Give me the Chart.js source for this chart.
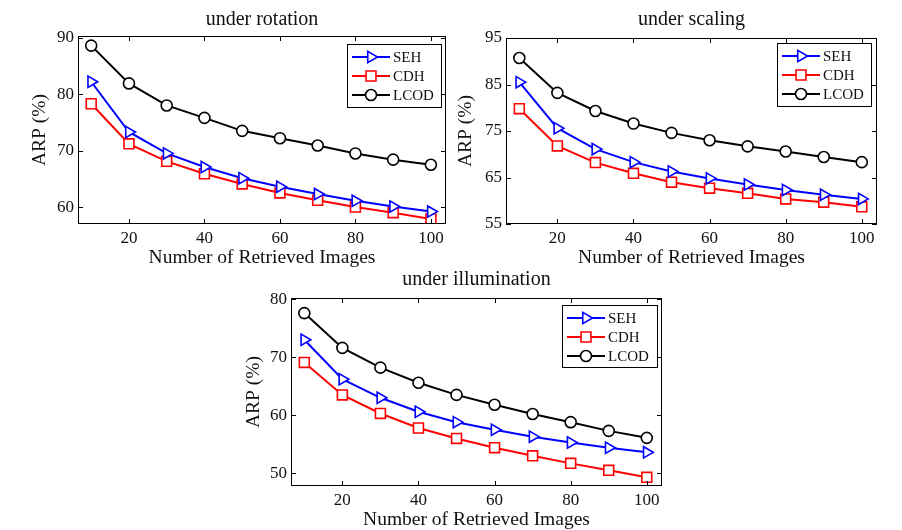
<!DOCTYPE html>
<html>
<head>
<meta charset="utf-8">
<script src="https://cdn.jsdelivr.net/npm/chart.js@4.4.0/dist/chart.umd.min.js"></script>
<style>
  body { margin: 0; background: #fff; }
  #wrap { position: relative; width: 902px; height: 530px; }
  canvas { position: absolute; left: 0; top: 0; }
</style>
</head>
<body>
<div id="wrap">
  <canvas id="rotChart" width="902" height="530"></canvas>
  <canvas id="scaChart" width="902" height="530"></canvas>
  <canvas id="illChart" width="902" height="530"></canvas>
</div>
<script>
// Number of retrieved images (x axis)
const retrieved = [10, 20, 30, 40, 50, 60, 70, 80, 90, 100];
const xTicks = [20, 40, 60, 80, 100];

// under rotation
const rotSEH  = [82.2, 73.3, 69.5, 67.1, 65.1, 63.6, 62.3, 61.1, 60.1, 59.2];
const rotCDH  = [78.3, 71.2, 68.1, 65.9, 64.1, 62.5, 61.2, 60.0, 59.0, 57.9];
const rotLCOD = [88.6, 81.9, 78.0, 75.8, 73.5, 72.2, 70.9, 69.5, 68.4, 67.5];
const rotTicks = [60, 70, 80, 90];

// under scaling
const scaSEH  = [85.5, 75.6, 71.1, 68.3, 66.3, 64.8, 63.5, 62.3, 61.3, 60.4];
const scaCDH  = [79.8, 71.8, 68.2, 65.9, 64.0, 62.7, 61.6, 60.4, 59.7, 58.7];
const scaLCOD = [90.7, 83.2, 79.3, 76.6, 74.6, 73.0, 71.7, 70.6, 69.4, 68.3];
const scaTicks = [55, 65, 75, 85, 95];

// under illumination
const illSEH  = [73.0, 66.2, 63.0, 60.6, 58.8, 57.5, 56.3, 55.3, 54.4, 53.6];
const illCDH  = [69.1, 63.5, 60.3, 57.8, 56.0, 54.4, 53.0, 51.7, 50.5, 49.3];
const illLCOD = [77.6, 71.6, 68.2, 65.6, 63.5, 61.8, 60.2, 58.8, 57.3, 56.1];
const illTicks = [50, 60, 70, 80];

const FONT = '"Liberation Serif", "Times New Roman", serif';
Chart.defaults.font.family = FONT;
Chart.defaults.color = '#111';

function series(label, values, color, style, radius, rotation) {
    return {
        label: label,
        data: retrieved.map((x, i) => ({ x: x, y: values[i] })),
        borderColor: color,
        backgroundColor: '#fff',
        borderWidth: 2,
        pointStyle: style,
        pointRadius: radius,
        pointHoverRadius: radius,
        pointRotation: rotation,
        pointBorderColor: color,
        pointBackgroundColor: '#fff',
        pointBorderWidth: 1.6,
        tension: 0
    };
}

// MATLAB style box, inward ticks, titles and legend
const matlabFrame = {
    id: 'matlabFrame',
    afterDraw(chart, args, opts) {
        const { ctx, chartArea: a, scales: { x, y } } = chart;
        ctx.save();
        ctx.strokeStyle = '#000';
        ctx.lineWidth = 1;
        ctx.strokeRect(a.left + 0.5, a.top + 0.5, a.width - 1, a.height - 1);

        const len = 5;
        ctx.beginPath();
        x.ticks.forEach(t => {
            const px = Math.round(x.getPixelForValue(t.value)) + 0.5;
            ctx.moveTo(px, a.bottom); ctx.lineTo(px, a.bottom - len);
            ctx.moveTo(px, a.top); ctx.lineTo(px, a.top + len);
        });
        y.ticks.forEach(t => {
            const py = Math.round(y.getPixelForValue(t.value)) + 0.5;
            ctx.moveTo(a.left, py); ctx.lineTo(a.left + len, py);
            ctx.moveTo(a.right, py); ctx.lineTo(a.right - len, py);
        });
        ctx.stroke();

        // titles
        ctx.fillStyle = '#111';
        ctx.textAlign = 'center';
        ctx.textBaseline = 'middle';
        const cx = (a.left + a.right) / 2;
        ctx.font = '20px ' + FONT;
        ctx.fillText(opts.title, cx, opts.titleY);
        ctx.font = '19.5px ' + FONT;
        ctx.fillText('Number of Retrieved Images', cx, opts.xTitleY);
        ctx.save();
        ctx.translate(opts.yTitleX, (a.top + a.bottom) / 2);
        ctx.rotate(-Math.PI / 2);
        ctx.fillText('ARP (%)', 0, 0);
        ctx.restore();

        // legend
        const lg = opts.legend;
        ctx.fillStyle = '#fff';
        ctx.fillRect(lg.x, lg.y, lg.w, lg.h);
        ctx.strokeStyle = '#000';
        ctx.lineWidth = 1;
        ctx.strokeRect(lg.x + 0.5, lg.y + 0.5, lg.w, lg.h);
        ctx.font = '15px ' + FONT;
        ctx.textAlign = 'left';
        chart.data.datasets.forEach((ds, i) => {
            const ry = lg.y + 13 + i * 19;
            ctx.strokeStyle = ds.borderColor;
            ctx.lineWidth = 2;
            ctx.beginPath();
            ctx.moveTo(lg.x + 5, ry);
            ctx.lineTo(lg.x + 43, ry);
            ctx.stroke();
            ctx.fillStyle = '#fff';
            ctx.lineWidth = ds.pointBorderWidth;
            Chart.helpers.drawPoint(ctx, {
                pointStyle: ds.pointStyle,
                radius: ds.pointRadius,
                rotation: ds.pointRotation,
                borderWidth: ds.pointBorderWidth
            }, lg.x + 24, ry);
            ctx.fillStyle = '#111';
            ctx.fillText(ds.label, lg.x + 46, ry + 1);
        });
        ctx.restore();
    }
};

function makeChart(id, cfg) {
    const box = cfg.box;
    new Chart(document.getElementById(id), {
        type: 'line',
        data: {
            datasets: [
                series('SEH', cfg.seh, '#0000ff', 'triangle', 6.5, 90),
                series('CDH', cfg.cdh, '#ff0000', 'rect', 7, 0),
                series('LCOD', cfg.lcod, '#000000', 'circle', 5.5, 0)
            ]
        },
        options: {
            responsive: false,
            animation: false,
            devicePixelRatio: 1,
            layout: {
                autoPadding: false,
                padding: {
                    left: box.left - 50,
                    top: box.top,
                    right: 902 - box.right,
                    bottom: 530 - box.bottom - 40
                }
            },
            plugins: {
                legend: { display: false },
                tooltip: { enabled: false },
                matlabFrame: {
                    title: cfg.title,
                    titleY: cfg.titleY,
                    xTitleY: cfg.xTitleY,
                    yTitleX: cfg.yTitleX,
                    legend: cfg.legend
                }
            },
            scales: {
                x: {
                    type: 'linear',
                    min: 6.5,
                    max: 104,
                    grid: { display: false, drawTicks: false },
                    border: { display: false },
                    ticks: { font: { size: 17 }, padding: 4, color: '#111', maxRotation: 0 },
                    afterBuildTicks: s => { s.ticks = xTicks.map(v => ({ value: v })); },
                    afterFit: s => { s.height = 40; s.paddingLeft = s.paddingRight = 0; }
                },
                y: {
                    type: 'linear',
                    min: cfg.yMin,
                    max: cfg.yMax,
                    grid: { display: false, drawTicks: false },
                    border: { display: false },
                    ticks: { font: { size: 17 }, padding: 4, color: '#111' },
                    afterBuildTicks: s => { s.ticks = cfg.yTicks.map(v => ({ value: v })); },
                    afterFit: s => { s.width = 50; s.paddingTop = s.paddingBottom = 0; }
                }
            }
        },
        plugins: [matlabFrame]
    });
}

makeChart('rotChart', {
    title: 'under rotation', seh: rotSEH, cdh: rotCDH, lcod: rotLCOD,
    yTicks: rotTicks, yMin: 57, yMax: 90.3,
    box: { left: 78, top: 36, right: 446, bottom: 224 },
    titleY: 20, xTitleY: 258, yTitleX: 40,
    legend: { x: 347, y: 44, w: 94, h: 63 }
});

makeChart('scaChart', {
    title: 'under scaling', seh: scaSEH, cdh: scaCDH, lcod: scaLCOD,
    yTicks: scaTicks, yMin: 55, yMax: 95,
    box: { left: 506, top: 38, right: 877, bottom: 224 },
    titleY: 20, xTitleY: 258, yTitleX: 466,
    legend: { x: 777, y: 43, w: 94, h: 63 }
});

makeChart('illChart', {
    title: 'under illumination', seh: illSEH, cdh: illCDH, lcod: illLCOD,
    yTicks: illTicks, yMin: 47.8, yMax: 80.2,
    box: { left: 291, top: 298, right: 662, bottom: 486 },
    titleY: 280, xTitleY: 520, yTitleX: 254,
    legend: { x: 562, y: 305, w: 95, h: 62 }
});
</script>
</body>
</html>
